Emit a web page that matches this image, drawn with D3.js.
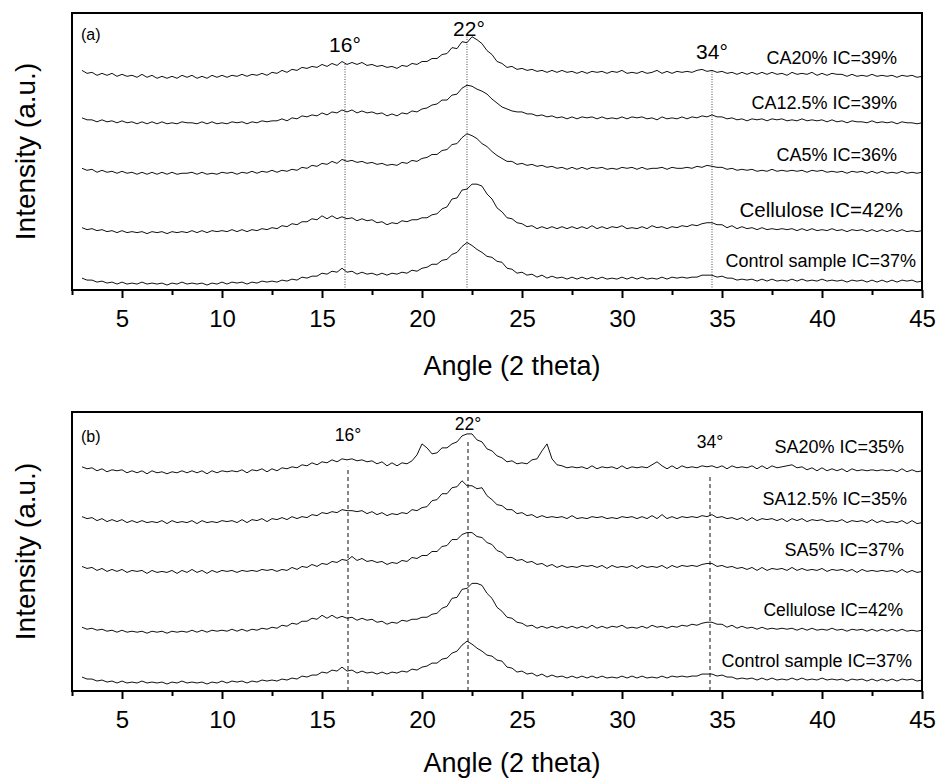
<!DOCTYPE html>
<html>
<head>
<meta charset="utf-8">
<script src="https://cdn.jsdelivr.net/npm/d3@7"></script>
<style>
    body { margin: 0; background: #fff; }
    svg text { font-family: Arial, "Liberation Sans", sans-serif; fill: #000; }
</style>
</head>
<body>
<svg id="chart" width="939" height="780"></svg>
<script>
    /* sampling of the diffractograms: 2 theta from 3 to 45 deg, step 0.25 */
    var angleStart = 3, angleStep = 0.25;
    var majorTicks = [5, 10, 15, 20, 25, 30, 35, 40, 45];
    var minorTicks = [2.5, 7.5, 12.5, 17.5, 22.5, 27.5, 32.5, 37.5, 42.5];

    /* intensities (a.u.) above each curve's own baseline */
    var ca20 = [
        7,4,5,2,4,2,4,1, 3,1,2,0,3,0,2,-1, 1,-1,1,-1,2,0,2,-1, 1,-1,2,0,2,0,2,1,
        3,1,3,2,4,2,5,4, 7,5,8,7,10,9,11,10, 13,11,14,12,16,13,15,13, 15,12,13,11,12,10,11,9,
        12,11,14,13,16,16,19,19, 23,24,30,29,36,35,41,38, 34,27,23,16,14,10,11,8, 9,7,8,6,7,5,7,5,
        7,5,6,4,6,4,6,5, 6,4,6,5,7,4,5,4, 6,4,5,7,4,6,4,6, 5,6,5,7,8,6,7,5,
        6,4,5,3,5,3,5,3, 5,3,5,3,4,2,5,3, 4,3,5,2,4,2,4,3, 3,1,3,1,2,1,3,1, 2,1,2,0,2,1,2,0, 1
    ];
    var ca125 = [
        6,4,4,2,4,2,3,1, 3,1,2,0,2,0,2,0, 2,0,1,0,2,1,1,0, 2,0,2,0,1,0,2,1,
        2,0,2,1,3,2,3,3, 5,3,6,5,8,7,9,8, 11,9,12,11,14,12,14,11, 13,11,12,10,11,8,10,8,
        11,10,13,12,15,16,19,20, 24,24,29,30,36,39,38,35, 33,30,25,21,17,15,13,12, 12,10,10,8,9,7,8,6,
        7,5,7,5,7,6,7,5, 7,5,6,5,7,5,7,6, 7,5,6,4,7,5,6,5, 7,5,7,6,8,7,9,7,
        7,5,6,4,5,3,5,4, 5,3,5,4,5,3,4,3, 5,3,4,3,4,2,4,2, 3,1,3,2,2,1,3,1, 2,1,2,0,2,1,1,0, 1
    ];
    var ca5 = [
        6,4,5,2,4,2,3,1, 3,1,2,0,2,0,2,0, 2,0,2,0,1,1,2,0, 2,0,1,0,2,1,2,0,
        2,1,3,1,3,2,4,2, 4,3,5,4,7,6,9,8, 11,10,13,11,15,13,14,12, 13,11,12,10,11,9,10,9,
        12,11,14,13,16,17,20,20, 24,25,30,31,37,41,39,36, 31,28,23,19,16,13,13,10, 11,9,10,8,9,7,8,6,
        7,5,7,5,7,5,7,6, 7,5,6,5,7,6,7,5, 7,5,6,6,7,5,7,6, 6,7,6,8,7,9,8,7,
        7,5,6,4,5,4,5,3, 4,3,5,3,4,3,4,3, 4,2,4,3,4,2,3,2, 3,1,3,2,3,1,3,1, 3,1,2,1,3,1,2,1, 2
    ];
    var cellulose = [
        5,3,4,2,3,1,2,0, 2,0,1,0,1,-1,1,0, 1,-1,1,0,1,0,2,0, 2,0,2,1,2,1,3,1,
        3,1,3,2,4,3,5,4, 7,6,9,8,11,11,14,13, 17,14,17,14,16,14,15,12, 14,12,13,10,11,8,10,9,
        12,11,13,13,15,15,18,19, 24,26,34,35,43,44,49,49, 47,39,34,25,21,15,14,10, 9,6,7,4,6,4,6,4,
        6,4,6,4,6,4,7,4, 6,4,6,5,7,4,5,4, 6,4,7,5,6,4,6,5, 7,6,8,7,9,10,10,8,
        8,5,7,4,6,4,5,3, 5,3,4,3,4,3,4,2, 4,2,4,2,3,2,4,2, 3,1,3,2,3,1,3,1, 3,1,3,1,3,1,2,1, 2
    ];
    var control = [
        6,4,4,2,3,1,2,0, 2,0,1,0,2,0,1,0, 1,-1,1,0,2,0,1,0, 1,-1,1,0,2,0,2,1,
        2,0,2,1,3,2,3,2, 4,3,5,4,7,6,8,8, 11,10,13,12,16,12,13,10, 12,10,11,9,11,9,11,10,
        12,11,14,13,16,17,20,20, 24,25,30,32,38,42,39,35, 32,28,27,23,22,16,15,11, 12,9,10,7,9,6,8,6,
        7,5,7,5,7,5,7,5, 7,5,6,5,7,5,7,5, 7,5,6,5,7,5,7,6, 7,6,7,7,9,9,9,7,
        8,6,6,4,5,4,5,3, 5,3,5,3,4,3,5,3, 5,3,4,3,5,3,4,3, 4,2,4,3,4,2,4,2, 4,2,4,2,4,3,4,2, 3
    ];
    var sa20 = [
        6,4,5,2,4,1,3,2, 3,0,2,0,2,-1,2,0, 1,-1,1,0,2,0,2,0, 2,-1,2,0,2,1,2,1,
        3,0,3,2,4,1,4,2, 5,4,6,5,8,7,10,8, 11,10,13,11,14,13,14,12, 13,11,12,9,11,7,10,7,
        10,9,12,18,29,25,19,20, 25,25,29,31,37,39,39,33, 31,24,22,17,15,11,12,9, 10,9,13,14,22,29,14,8,
        7,5,6,5,6,4,7,4, 6,5,6,4,7,4,6,5, 6,5,8,11,7,4,7,4, 7,5,6,5,7,6,7,5,
        7,4,7,5,6,5,7,4, 7,4,7,5,6,7,8,5, 6,3,5,2,5,2,4,2, 4,1,4,2,3,2,3,2, 3,2,3,1,4,1,3,1, 2
    ];
    var sa125 = [
        6,4,5,2,4,1,3,1, 3,0,2,0,2,0,1,0, 2,-1,2,0,1,0,2,-1, 2,0,1,0,2,1,2,0,
        3,0,3,2,4,1,4,3, 5,3,6,4,6,5,8,7, 10,9,11,10,13,12,12,11, 12,9,11,8,10,7,9,8,
        10,9,13,12,15,16,22,23, 29,29,35,36,42,37,37,34, 35,27,23,18,17,13,13,9, 10,7,8,5,7,5,6,5,
        6,4,7,4,5,4,6,5, 6,4,5,4,6,5,6,4, 6,4,7,4,8,4,6,4, 6,5,6,5,7,6,8,5,
        6,4,5,3,5,2,5,2, 4,3,4,2,4,1,4,2, 4,1,3,2,3,1,2,1, 3,0,2,1,2,0,3,0, 2,0,1,0,2,-1,2,-1, 0
    ];
    var sa5 = [
        6,4,5,2,4,1,3,1, 3,0,2,1,2,-1,2,0, 1,0,2,-1,2,0,3,0, 2,-1,2,0,2,1,2,0,
        2,1,2,1,3,2,3,1, 3,2,5,3,6,5,8,6, 9,8,11,10,13,12,16,12, 14,11,12,10,11,8,10,9,
        12,11,15,14,17,17,21,21, 26,27,33,33,38,40,40,36, 35,30,28,22,20,15,15,12, 13,10,11,8,9,6,8,5,
        7,5,6,5,7,6,7,5, 7,4,7,5,6,5,7,4, 7,5,6,5,7,4,7,5, 7,6,7,6,8,9,9,6,
        7,5,6,4,5,3,5,2, 5,2,4,3,4,2,5,2, 4,2,3,2,4,1,3,2, 3,1,3,0,3,1,2,1, 2,1,2,0,3,0,2,0, 1
    ];

    /* stacking offsets (a.u.) of the five curves, top to bottom */
    var offsetsA = [215, 168, 117, 58, 6];
    var offsetsB = [219, 169, 119, 59, 8];
    var namesA = ["CA20% IC=39%", "CA12.5% IC=39%", "CA5% IC=36%", "Cellulose IC=42%", "Control sample IC=37%"];
    var namesB = ["SA20% IC=35%", "SA12.5% IC=35%", "SA5% IC=37%", "Cellulose IC=42%", "Control sample IC=37%"];
    /* marked reflections (deg) */
    var peaksA = [16.15, 22.25, 34.5];
    var peaksB = [16.3, 22.3, 34.4];
    var peakNames = ["16\u00b0", "22\u00b0", "34\u00b0"];

    var svg = d3.select("#chart");
    var x = d3.scaleLinear().domain([2.5, 45]).range([72, 922]);

    /* draws one panel; layout holds pixel placement only */
    function drawPanel(series, offsets, names, peaks, layout) {
        var y = d3.scaleLinear().domain([0, 280]).range([layout.bottom, layout.top]);
        var g = svg.append("g");

        /* reference lines at the crystalline reflections */
        g.selectAll("line.ref").data(peaks).enter().append("line")
            .attr("class", "ref")
            .attr("x1", function (d) { return x(d); }).attr("x2", function (d) { return x(d); })
            .attr("y1", y(0)).attr("y2", function (d, i) { return y(layout.refTop[i]); })
            .attr("stroke", layout.refColor).attr("stroke-width", 1)
            .attr("stroke-dasharray", layout.dash);

        var line = d3.line()
            .x(function (d, i) { return x(angleStart + i * angleStep); });

        series.forEach(function (s, k) {
            line.y(function (d) { return y(d + offsets[k]); });
            g.append("path").datum(s)
                .attr("d", line)
                .attr("fill", "none")
                .attr("stroke", "#111")
                .attr("stroke-width", 1)
                .attr("stroke-linejoin", "round");
        });

        /* frame */
        g.append("rect")
            .attr("x", x(2.5)).attr("y", layout.top)
            .attr("width", x(45) - x(2.5)).attr("height", layout.bottom - layout.top)
            .attr("fill", "none").attr("stroke", "#000").attr("stroke-width", 2);

        /* x axis: labelled major ticks and bare minor ticks */
        var axis = g.append("g").attr("transform", "translate(0," + layout.bottom + ")")
            .call(d3.axisBottom(x).tickValues(majorTicks).tickSize(8).tickPadding(12).tickFormat(d3.format("d")));
        axis.select(".domain").remove();
        axis.selectAll(".tick line").attr("stroke-width", 2);
        axis.selectAll(".tick text").attr("font-size", 24).attr("font-family", "Arial, 'Liberation Sans', sans-serif");
        var minor = g.append("g").attr("transform", "translate(0," + layout.bottom + ")")
            .call(d3.axisBottom(x).tickValues(minorTicks).tickSize(5).tickFormat(""));
        minor.select(".domain").remove();
        minor.selectAll(".tick line").attr("stroke-width", 2);

        g.append("text")
            .attr("x", 512).attr("y", layout.bottom + layout.titleDy)
            .attr("text-anchor", "middle").attr("font-size", 27)
            .text("Angle (2 theta)");
        g.append("text")
            .attr("transform", "translate(35," + (layout.top + layout.bottom) / 2 + ") rotate(-90)")
            .attr("text-anchor", "middle").attr("font-size", 28)
            .text("Intensity (a.u.)");

        g.append("text").attr("x", 81).attr("y", layout.top + layout.tagDy)
            .attr("font-size", 16).text(layout.tag);

        g.selectAll("text.peak").data(peakNames).enter().append("text")
            .attr("class", "peak")
            .attr("x", function (d, i) { return x(peaks[i]) + layout.peakDx[i]; })
            .attr("y", function (d, i) { return layout.peakY[i]; })
            .attr("text-anchor", "middle").attr("font-size", layout.peakSize)
            .text(function (d) { return d; });

        g.selectAll("text.name").data(names).enter().append("text")
            .attr("class", "name")
            .attr("x", function (d, i) { return layout.nameX[i]; })
            .attr("y", function (d, i) { return layout.nameY[i]; })
            .attr("text-anchor", "end")
            .attr("font-size", function (d, i) { return layout.nameSize[i]; })
            .text(function (d) { return d; });
    }

    drawPanel([ca20, ca125, ca5, cellulose, control], offsetsA, namesA, peaksA, {
        top: 13, bottom: 290, tag: "(a)", tagDy: 27, titleDy: 85,
        refTop: [229, 256, 222], refColor: "#444", dash: "1,1.5",
        peakY: [52, 36, 59], peakDx: [0, 2, 0], peakSize: 21,
        nameX: [897, 897, 897, 903, 916], nameY: [64, 109, 161, 217, 267],
        nameSize: [18, 18, 18, 20.5, 18]
    });
    drawPanel([sa20, sa125, sa5, cellulose, control], offsetsB, namesB, peaksB, {
        top: 412, bottom: 691, tag: "(b)", tagDy: 30, titleDy: 81,
        refTop: [225, 253, 217], refColor: "#111", dash: "4,3",
        peakY: [441, 430, 448], peakDx: [0, 0, 0], peakSize: 17.5,
        nameX: [904, 907, 904, 903, 912], nameY: [453, 505, 556, 616, 667],
        nameSize: [18, 18, 18, 17.5, 18]
    });
</script>
</body>
</html>
